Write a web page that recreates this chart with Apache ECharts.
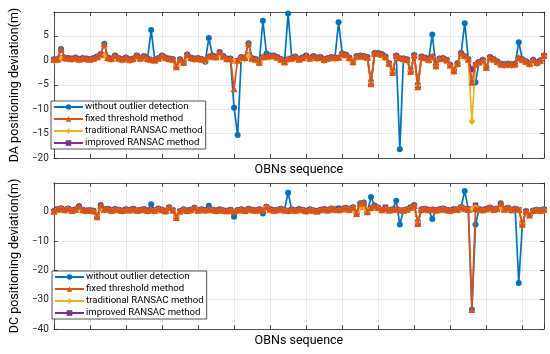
<!DOCTYPE html>
<html><head><meta charset="utf-8">
<script src="https://cdn.jsdelivr.net/npm/echarts@6/dist/echarts.min.js"></script>
<style>html,body{margin:0;padding:0;background:#fff}#c{width:550px;height:354px}</style>
</head><body><div id="c"></div>
<script>
const seriesNames = ['without outlier detection','fixed threshold method','traditional RANSAC method','improved RANSAC method'];
const xLabel = 'OBNs sequence';
const topYLabel = 'DA positioning deviation(m)';
const botYLabel = 'DC positioning deviation(m)';
const topYTicks = [-20,-15,-10,-5,0,5];
const botYTicks = [-40,-30,-20,-10,0];

// top panel (DA)
const topBlue = [
0.2,0.3,2.3,0.6,0.5,0.4,0.6,0.3,0.5,0.4,
0.3,0.5,0.8,1.3,3.4,0.6,0.4,1.0,0.5,0.3,
0.6,0.2,0.4,1.0,0.5,0.9,0.4,6.2,0.1,0.5,
1.0,0.6,0.4,0.3,-1.3,0.2,-0.4,1.2,0.6,0.4,
0.5,0.3,-0.3,4.6,1.0,0.8,1.7,0.9,0.4,0.4,
-9.7,-15.3,0.7,0.6,3.5,0.5,0.3,-0.4,8.1,1.4,
1.0,1.0,0.7,0.3,-0.3,9.6,0.5,0.8,0.3,0.6,
1.0,0.5,0.9,0.6,0.7,0.2,0.5,0.7,0.6,7.8,
1.4,1.2,0.6,-0.3,0.9,1.0,0.9,0.7,-4.8,1.5,
1.5,1.3,0.8,-0.6,-2.5,1.0,-18.2,0.4,0.2,-2.3,
1.1,-5.4,0.8,0.6,0.2,5.3,-1.1,0.4,0.5,0.1,
-0.9,-2.1,-0.6,1.5,7.6,0.3,-4.5,-4.5,-0.3,0.1,
-1.4,0.7,0.3,-0.2,-0.7,-0.8,-0.7,-0.8,-0.7,3.7,
0.2,-0.2,-0.6,0.1,-0.4,0.0,1.0];
const topOrange = [
0.2,0.3,2.3,0.6,0.5,0.4,0.6,0.3,0.5,0.4,
0.3,0.5,0.8,1.3,3.4,0.6,0.4,1.0,0.5,0.3,
0.6,0.2,0.4,1.0,0.5,0.9,0.4,0.2,0.1,0.5,
1.0,0.6,0.4,0.3,-1.3,0.2,-0.4,1.2,0.6,0.4,
0.5,0.3,0.2,0.9,1.0,0.8,1.7,0.9,0.4,0.4,
-5.8,0.1,0.7,0.6,3.5,0.5,0.3,-0.4,0.8,0.9,
1.0,1.0,0.7,0.3,-0.3,0.4,0.5,0.8,0.3,0.6,
1.0,0.5,0.9,0.6,0.7,0.2,0.5,0.7,0.6,0.7,
1.4,1.2,0.6,-0.3,0.9,1.0,0.9,0.7,-4.8,1.5,
1.5,1.3,0.8,-0.6,-2.5,1.0,0.6,0.4,0.2,-2.3,
1.1,-5.4,0.8,0.6,0.2,0.9,-1.1,0.4,0.5,0.1,
-0.9,-2.1,-0.6,1.5,1.0,0.3,-4.5,-0.7,-0.3,0.1,
-1.4,0.7,0.3,-0.2,-0.7,-0.8,-0.7,-0.8,-0.7,0.6,
0.2,-0.2,-0.6,0.1,-0.4,0.0,1.0];
const topYellow = [
-0.1,0.0,0.4,0.3,0.2,0.1,0.3,0.0,0.2,0.1,
0.0,0.2,0.5,0.9,1.0,0.3,0.1,0.7,0.2,0.0,
0.3,-0.1,0.1,0.7,0.2,0.6,0.1,-0.1,-0.2,0.2,
0.7,0.3,0.1,0.0,-1.1,-0.1,-0.6,0.9,0.3,0.1,
0.2,0.0,-0.1,0.6,0.7,0.5,1.3,0.6,0.1,0.1,
-0.2,-0.2,0.4,0.3,1.0,0.2,0.0,-0.6,0.5,0.6,
0.7,0.7,0.4,0.0,-0.5,0.1,0.2,0.5,0.0,0.3,
0.7,0.2,0.6,0.3,0.4,-0.1,0.2,0.4,0.3,0.4,
1.1,0.9,0.3,-0.5,0.6,0.7,0.6,0.4,-4.6,1.2,
1.2,1.0,0.5,-0.8,-2.3,0.7,0.3,0.1,-0.1,-2.1,
0.8,-5.2,0.5,0.3,-0.1,0.6,-1.3,0.1,0.2,-0.2,
-1.2,-2.4,-0.9,1.1,0.7,0.0,-12.5,-1.0,-0.6,-0.2,
-1.6,0.4,0.0,-0.5,-1.0,-1.1,-1.0,-1.1,-1.0,0.3,
-0.1,-0.5,-0.9,-0.2,-0.7,-0.3,0.8];
const topPurple = [
0.0,0.1,0.5,0.4,0.3,0.2,0.4,0.1,0.3,0.2,
0.1,0.3,0.6,1.0,1.1,0.4,0.2,0.8,0.3,0.1,
0.4,0.0,0.2,0.8,0.3,0.7,0.2,0.0,-0.1,0.3,
0.8,0.4,0.2,0.1,-1.0,0.0,-0.5,1.0,0.4,0.2,
0.3,0.1,0.0,0.7,0.8,0.6,1.4,0.7,0.2,0.2,
-0.1,-0.1,0.5,0.4,1.1,0.3,0.1,-0.5,0.6,0.7,
0.8,0.8,0.5,0.1,-0.4,0.2,0.3,0.6,0.1,0.4,
0.8,0.3,0.7,0.4,0.5,0.0,0.3,0.5,0.4,0.5,
1.2,1.0,0.4,-0.4,0.7,0.8,0.7,0.5,-4.5,1.3,
1.3,1.1,0.6,-0.7,-2.2,0.8,0.4,0.2,0.0,-2.0,
0.9,-5.1,0.6,0.4,0.0,0.7,-1.2,0.2,0.3,-0.1,
-1.1,-2.3,-0.8,1.2,0.8,0.1,-1.9,-0.9,-0.5,-0.1,
-1.5,0.5,0.1,-0.4,-0.9,-1.0,-0.9,-1.0,-0.9,0.4,
0.0,-0.4,-0.8,-0.1,-0.6,-0.2,0.9];

// bottom panel (DC)
const botBlue = [
0.3,1.0,1.3,0.8,1.2,0.6,0.9,2.0,0.8,0.5,
0.7,0.4,-1.6,2.4,0.9,1.1,0.6,1.0,0.8,0.5,
0.9,0.7,1.1,0.6,0.8,1.0,0.5,2.6,0.6,1.2,
0.8,0.4,1.6,0.7,-1.9,0.3,0.9,0.5,0.8,1.4,
0.6,0.9,0.7,2.1,0.8,0.5,0.9,0.6,0.4,0.8,
-1.6,0.7,0.9,0.5,1.1,0.8,0.6,0.9,-0.5,1.8,
1.0,0.6,0.8,1.1,0.7,6.6,0.9,0.6,1.0,0.8,
0.4,0.9,0.6,0.3,0.8,1.0,0.7,1.2,0.9,1.3,
1.1,1.4,0.9,1.6,-0.5,3.0,3.2,0.1,5.1,2.2,
1.5,0.8,1.3,0.7,0.9,3.8,-4.3,0.6,0.9,1.6,
2.4,-3.9,0.9,1.1,0.8,-2.4,0.7,0.9,1.2,0.8,
0.6,1.0,0.9,1.7,7.2,0.9,-33.3,-4.3,1.0,0.8,
1.1,1.5,0.9,1.2,3.0,1.0,1.4,0.8,1.1,-24.3,
-4.2,0.3,-1.0,0.5,0.8,0.6,0.9];
const botOrange = [
0.3,1.0,1.3,0.8,1.2,0.6,0.9,2.0,0.8,0.5,
0.7,0.4,-1.6,2.4,0.9,1.1,0.6,1.0,0.8,0.5,
0.9,0.7,1.1,0.6,0.8,1.0,0.5,0.9,0.6,1.2,
0.8,0.4,1.6,0.7,-1.9,0.3,0.9,0.5,0.8,1.4,
0.6,0.9,0.7,1.0,0.8,0.5,0.9,0.6,0.4,0.8,
0.2,0.7,0.9,0.5,1.1,0.8,0.6,0.9,0.7,1.8,
1.0,0.6,0.8,1.1,0.7,0.5,0.9,0.6,1.0,0.8,
0.4,0.9,0.6,0.3,0.8,1.0,0.7,1.2,0.9,0.8,
1.1,1.4,0.9,1.6,-0.5,3.0,3.2,0.1,1.5,2.2,
1.5,0.8,1.3,0.7,0.9,1.1,0.8,0.6,0.9,1.6,
2.4,-3.9,0.9,1.1,0.8,1.0,0.7,0.9,1.2,0.8,
0.6,1.0,0.9,1.7,1.3,0.9,-33.3,1.2,1.0,0.8,
1.1,1.5,0.9,1.2,3.0,1.0,1.4,0.8,1.1,0.9,
-4.2,0.3,-1.0,0.5,0.8,0.6,0.9];
const botYellow = [
0.0,0.7,1.0,0.5,0.9,0.3,0.6,1.4,0.5,0.2,
0.4,0.1,-1.2,1.2,0.6,0.8,0.3,0.7,0.5,0.2,
0.6,0.4,0.8,0.3,0.5,0.7,0.2,0.6,0.3,0.9,
0.5,0.1,1.3,0.4,-1.6,0.0,0.6,0.2,0.5,1.1,
0.3,0.6,0.4,0.7,0.5,0.2,0.6,0.3,0.1,0.5,
-0.1,0.4,0.6,0.2,0.8,0.5,0.3,0.6,0.4,1.5,
0.7,0.3,0.5,0.8,0.4,0.2,0.6,0.3,0.7,0.5,
0.1,0.6,0.3,0.0,0.5,0.7,0.4,0.9,0.6,0.5,
0.8,1.1,0.6,1.3,-0.2,1.5,1.8,0.2,1.2,1.6,
1.2,0.5,1.0,0.4,0.6,0.8,0.5,0.3,0.6,1.3,
1.8,-3.6,0.6,0.8,0.5,0.7,0.4,0.6,0.9,0.5,
0.3,0.7,0.6,1.4,1.0,0.6,0.9,1.6,0.7,0.5,
0.8,1.2,0.6,0.9,1.9,0.7,1.1,0.5,0.8,0.6,
-3.9,0.0,-0.7,0.2,0.5,0.3,0.6];
const botPurple = [
0.1,0.8,1.1,0.6,1.0,0.4,0.7,1.5,0.6,0.3,
0.5,0.2,-1.1,1.3,0.7,0.9,0.4,0.8,0.6,0.3,
0.7,0.5,0.9,0.4,0.6,0.8,0.3,0.7,0.4,1.0,
0.6,0.2,1.4,0.5,-1.5,0.1,0.7,0.3,0.6,1.2,
0.4,0.7,0.5,0.8,0.6,0.3,0.7,0.4,0.2,0.6,
0.0,0.5,0.7,0.3,0.9,0.6,0.4,0.7,0.5,1.6,
0.8,0.4,0.6,0.9,0.5,0.3,0.7,0.4,0.8,0.6,
0.2,0.7,0.4,0.1,0.6,0.8,0.5,1.0,0.7,0.6,
0.9,1.2,0.7,1.4,-0.1,1.6,1.9,0.3,1.3,1.7,
1.3,0.6,1.6,0.5,0.7,0.9,0.6,0.4,0.7,1.4,
1.9,-3.5,0.7,0.9,0.6,0.8,0.5,0.7,1.0,0.6,
0.4,0.8,0.7,1.5,1.1,0.7,1.0,2.3,0.8,0.6,
0.9,1.3,0.7,1.0,2.0,0.8,1.2,0.6,0.9,0.7,
-3.8,0.1,-0.6,0.3,0.6,0.4,0.7];

const colors = ['#0072BD','#D95319','#EDB120','#7E2F8E'];
const symbols = ['circle','triangle','diamond','rect'];
const symSizes = [6,7,7,5.5];
const FONT = 'Roboto';
const AX = '#262626';

function pts(arr){ return arr.map((v,i)=>[i,v]); }
function fmtY(ticks){ return v => ticks.indexOf(Math.round(v*1000)/1000) >= 0 ? String(v).replace('-','\u2212') : ''; }

const chart = echarts.init(document.getElementById('c'), null, {renderer:'canvas'});
const xMax = topBlue.length - 1;

function xAxes(g){
  return [
    {gridIndex:g, type:'value', min:0, max:xMax, interval:10, position:'bottom',
     axisLine:{show:true,onZero:false,lineStyle:{color:AX,width:0.8}},
     axisTick:{show:true,inside:true,length:4,lineStyle:{color:AX,width:0.8}},
     axisLabel:{show:false},
     splitLine:{show:true,lineStyle:{color:'#e3e3e3',width:0.8}},
     name:xLabel, nameLocation:'middle', nameGap:5,
     nameTextStyle:{fontFamily:FONT,fontSize:12.5,color:'#000',verticalAlign:'top'}},
    {gridIndex:g, type:'value', min:0, max:xMax, interval:10, position:'top',
     axisLine:{show:true,onZero:false,lineStyle:{color:AX,width:0.8}},
     axisTick:{show:true,inside:true,length:4,lineStyle:{color:AX,width:0.8}},
     axisLabel:{show:false}, splitLine:{show:false}}
  ];
}
function yAxes(g, min, max, interval, ticks, name){
  return [
    {gridIndex:g, type:'value', min:min, max:max, interval:interval, position:'left',
     axisLine:{show:true,onZero:false,lineStyle:{color:AX,width:0.8}},
     axisTick:{show:true,inside:true,length:4,lineStyle:{color:AX,width:0.8}},
     axisLabel:{show:true,margin:5,fontFamily:FONT,fontSize:10,color:AX,formatter:fmtY(ticks),showMaxLabel:false},
     splitLine:{show:true,lineStyle:{color:'#e3e3e3',width:0.8}},
     name:name, nameLocation:'middle', nameGap:27, nameRotate:90,
     nameTextStyle:{fontFamily:FONT,fontSize:12.5,color:'#000'}},
    {gridIndex:g, type:'value', min:min, max:max, interval:interval, position:'right',
     axisLine:{show:true,onZero:false,lineStyle:{color:AX,width:0.8}},
     axisTick:{show:true,inside:true,length:4,lineStyle:{color:AX,width:0.8}},
     axisLabel:{show:false}, splitLine:{show:false}}
  ];
}

const panelData = [[topBlue,topOrange,topYellow,topPurple],[botBlue,botOrange,botYellow,botPurple]];
const drawOrder = [0,3,2,1];
const series = [];
panelData.forEach((sets,g)=>{
  drawOrder.forEach(k=>{
    series.push({
      name:seriesNames[k], type:'line', xAxisIndex:g*2, yAxisIndex:g*2,
      data:pts(sets[k]), symbol:symbols[k], symbolSize:symSizes[k], showSymbol:true,
      lineStyle:{color:colors[k],width:1.7}, itemStyle:{color:colors[k],borderWidth:0},
      emphasis:{disabled:true}, z:2+drawOrder.indexOf(k), animation:false
    });
  });
});

function legend(left, top){
  return {orient:'vertical', left:left, top:top, data:seriesNames,
    itemWidth:29, itemHeight:7, itemGap:0, padding:[0,3,0,2],
    borderColor:AX, borderWidth:0.8, backgroundColor:'#fff',
    textStyle:{fontFamily:FONT,fontSize:9.6,color:'#000',lineHeight:12,padding:[0,0,0,-3]}, selectedMode:false};
}

chart.setOption({
  animation:false,
  backgroundColor:'#fff',
  grid:[{left:44,right:6,top:12,height:146},{left:44,right:6,top:183,height:146}],
  xAxis:[...xAxes(0),...xAxes(1)],
  yAxis:[...yAxes(0,-20,9.9,5,topYTicks,topYLabel),...yAxes(1,-40,9.9,10,botYTicks,botYLabel)],
  legend:[legend(51,101),legend(52,271)],
  series:series
});
</script></body></html>
